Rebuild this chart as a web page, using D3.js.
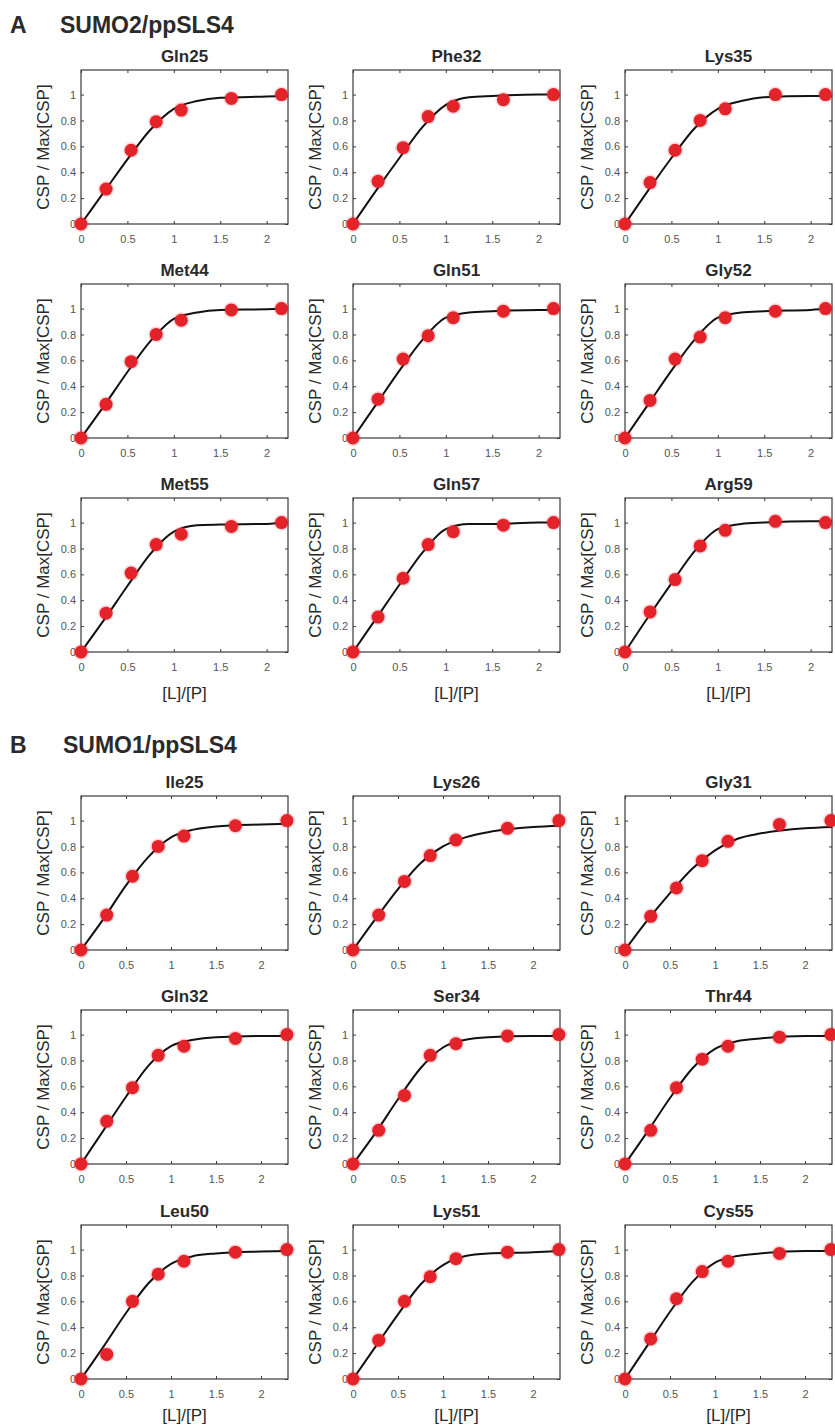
<!DOCTYPE html>
<html>
<head>
<meta charset="utf-8">
<script src="https://cdn.jsdelivr.net/npm/d3@7"></script>
<style>
  html, body { margin: 0; padding: 0; background: #ffffff; }
  svg { display: block; font-family: "Liberation Sans", Arial, Helvetica, sans-serif; }
</style>
</head>
<body>
<svg id="fig" width="835" height="1427"></svg>
<script>
// ---- Titration data: normalised chemical shift perturbation vs ligand/protein ratio ----

// Panel A: SUMO2 / ppSLS4
const ratiosA = [0, 0.27, 0.54, 0.81, 1.08, 1.62, 2.16];
const residuesA = ["Gln25", "Phe32", "Lys35", "Met44", "Gln51", "Gly52", "Met55", "Gln57", "Arg59"];
const cspA = [
  [0, 0.27, 0.57, 0.79, 0.88, 0.97, 1.00],
  [0, 0.33, 0.59, 0.83, 0.91, 0.96, 1.00],
  [0, 0.32, 0.57, 0.80, 0.89, 1.00, 1.00],
  [0, 0.26, 0.59, 0.80, 0.91, 0.99, 1.00],
  [0, 0.30, 0.61, 0.79, 0.93, 0.98, 1.00],
  [0, 0.29, 0.61, 0.78, 0.93, 0.98, 1.00],
  [0, 0.30, 0.61, 0.83, 0.91, 0.97, 1.00],
  [0, 0.27, 0.57, 0.83, 0.93, 0.98, 1.00],
  [0, 0.31, 0.56, 0.82, 0.94, 1.01, 1.00]
];
// fitted binding curves, sampled at these ratios
const fitRatiosA = [0, 0.25, 0.5, 0.75, 1.0, 1.25, 1.5, 2.0, 2.23];
const fitA = [
  [0, 0.25, 0.50, 0.73, 0.89, 0.95, 0.975, 0.985, 0.99],
  [0, 0.26, 0.51, 0.75, 0.92, 0.98, 0.99, 1.00, 1.00],
  [0, 0.26, 0.51, 0.74, 0.89, 0.95, 0.98, 0.99, 0.99],
  [0, 0.25, 0.51, 0.75, 0.92, 0.97, 0.99, 0.995, 1.00],
  [0, 0.26, 0.52, 0.76, 0.93, 0.97, 0.98, 0.99, 0.99],
  [0, 0.26, 0.52, 0.76, 0.93, 0.97, 0.98, 0.99, 1.00],
  [0, 0.25, 0.51, 0.76, 0.93, 0.98, 0.985, 0.99, 1.00],
  [0, 0.26, 0.52, 0.77, 0.95, 0.99, 0.99, 1.00, 1.00],
  [0, 0.27, 0.53, 0.78, 0.95, 0.99, 1.00, 1.01, 1.01]
];

// Panel B: SUMO1 / ppSLS4
const ratiosB = [0, 0.286, 0.572, 0.858, 1.144, 1.716, 2.288];
const residuesB = ["Ile25", "Lys26", "Gly31", "Gln32", "Ser34", "Thr44", "Leu50", "Lys51", "Cys55"];
const cspB = [
  [0, 0.27, 0.57, 0.80, 0.88, 0.96, 1.00],
  [0, 0.27, 0.53, 0.73, 0.85, 0.94, 1.00],
  [0, 0.26, 0.48, 0.69, 0.84, 0.97, 1.00],
  [0, 0.33, 0.59, 0.84, 0.91, 0.97, 1.00],
  [0, 0.26, 0.53, 0.84, 0.93, 0.99, 1.00],
  [0, 0.26, 0.59, 0.81, 0.91, 0.98, 1.00],
  [0, 0.19, 0.60, 0.81, 0.91, 0.98, 1.00],
  [0, 0.30, 0.60, 0.79, 0.93, 0.98, 1.00],
  [0, 0.31, 0.62, 0.83, 0.91, 0.97, 1.00]
];
const fitRatiosB = [0, 0.25, 0.5, 0.75, 1.0, 1.25, 1.5, 2.0, 2.3];
const fitB = [
  [0, 0.24, 0.50, 0.72, 0.87, 0.93, 0.955, 0.97, 0.975],
  [0, 0.24, 0.47, 0.67, 0.80, 0.87, 0.91, 0.95, 0.96],
  [0, 0.23, 0.44, 0.63, 0.77, 0.86, 0.90, 0.94, 0.95],
  [0, 0.26, 0.52, 0.76, 0.91, 0.96, 0.98, 0.99, 0.99],
  [0, 0.24, 0.50, 0.74, 0.90, 0.96, 0.98, 0.99, 0.99],
  [0, 0.25, 0.51, 0.74, 0.89, 0.95, 0.97, 0.99, 0.99],
  [0, 0.25, 0.51, 0.74, 0.89, 0.95, 0.97, 0.985, 0.99],
  [0, 0.25, 0.50, 0.73, 0.88, 0.95, 0.97, 0.98, 0.99],
  [0, 0.26, 0.52, 0.75, 0.90, 0.95, 0.97, 0.99, 0.99]
];

const xTicks = [0, 0.5, 1, 1.5, 2];
const yTicks = [0, 0.2, 0.4, 0.6, 0.8, 1];
const yLabel = "CSP / Max[CSP]";
const xLabel = "[L]/[P]";

// ---- layout ----
const colLeft = [81, 353, 625];
const plotW = 207, plotH = 154;
const panels = [
  { letter: "A", name: "SUMO2/ppSLS4", headY: 33, nameX: 60, rowTop: [70, 284, 498],
    xMax: 2.23, ratios: ratiosA, residues: residuesA, csp: cspA, fitX: fitRatiosA, fit: fitA, xLabelDy: 47 },
  { letter: "B", name: "SUMO1/ppSLS4", headY: 753, nameX: 63, rowTop: [796, 1010, 1225],
    xMax: 2.3, ratios: ratiosB, residues: residuesB, csp: cspB, fitX: fitRatiosB, fit: fitB, xLabelDy: 42 }
];

const textCol = "#2a2a2a";
const tickCol = "#555555";
const frameCol = "#3a3a3a";
const dotCol = "#e3222a";

const svg = d3.select("#fig");

panels.forEach(p => {
  svg.append("text")
    .attr("x", 10).attr("y", p.headY)
    .attr("font-size", 23).attr("font-weight", "bold").attr("fill", textCol)
    .text(p.letter);
  svg.append("text")
    .attr("x", p.nameX).attr("y", p.headY)
    .attr("font-size", 23).attr("font-weight", "bold").attr("fill", textCol)
    .text(p.name);

  p.residues.forEach((res, i) => {
    const row = Math.floor(i / 3), col = i % 3;
    const left = colLeft[col], top = p.rowTop[row];

    const x = d3.scaleLinear().domain([0, p.xMax]).range([0, plotW]);
    const y = d3.scaleLinear().domain([0, 1.19]).range([plotH, 0]);

    const g = svg.append("g").attr("transform", `translate(${left},${top})`);

    // inward ticks on all four sides
    const fmt = d => String(d);
    const ax = [
      { a: d3.axisBottom(x).tickValues(xTicks).tickFormat(fmt), t: `translate(0,${plotH})`, lab: true },
      { a: d3.axisTop(x).tickValues(xTicks).tickFormat(""), t: "translate(0,0)", lab: false },
      { a: d3.axisLeft(y).tickValues(yTicks).tickFormat(fmt), t: "translate(0,0)", lab: true },
      { a: d3.axisRight(y).tickValues(yTicks).tickFormat(""), t: `translate(${plotW},0)`, lab: false }
    ];
    ax.forEach(o => {
      const ag = g.append("g").attr("transform", o.t)
        .call(o.a.tickSizeInner(-3).tickSizeOuter(0).tickPadding(o === ax[0] ? 11 : 5));
      ag.select(".domain").remove();
      ag.selectAll("line").attr("stroke", frameCol).attr("stroke-width", 1);
      ag.selectAll("text")
        .attr("font-family", "\"Liberation Sans\", Arial, sans-serif")
        .attr("font-size", 11).attr("fill", tickCol);
    });

    g.append("rect")
      .attr("x", 0).attr("y", 0).attr("width", plotW).attr("height", plotH)
      .attr("fill", "none").attr("stroke", frameCol).attr("stroke-width", 1.2);

    // title
    g.append("text")
      .attr("x", plotW / 2).attr("y", -8)
      .attr("text-anchor", "middle")
      .attr("font-size", 17).attr("font-weight", "bold").attr("fill", textCol)
      .text(res);

    // y axis label
    g.append("text")
      .attr("transform", `translate(-32,${plotH / 2}) rotate(-90)`)
      .attr("text-anchor", "middle")
      .attr("font-size", 17).attr("fill", textCol)
      .text(yLabel);

    // fitted curve
    const fitPts = p.fitX.map((fx, k) => [fx, p.fit[i][k]]);
    const line = d3.line().x(d => x(d[0])).y(d => y(d[1])).curve(d3.curveMonotoneX);
    g.append("path")
      .attr("d", line(fitPts))
      .attr("fill", "none").attr("stroke", "#111").attr("stroke-width", 2);

    // measured points
    const pts = p.ratios.map((r, k) => [r, p.csp[i][k]]);
    g.selectAll("circle.halo").data(pts).enter().append("circle")
      .attr("class", "halo")
      .attr("cx", d => x(d[0])).attr("cy", d => y(d[1])).attr("r", 8)
      .attr("fill", dotCol).attr("opacity", 0.18);
    g.selectAll("circle.dot").data(pts).enter().append("circle")
      .attr("class", "dot")
      .attr("cx", d => x(d[0])).attr("cy", d => y(d[1])).attr("r", 6.5)
      .attr("fill", dotCol);

    // x axis label on the bottom row
    if (row === 2) {
      g.append("text")
        .attr("x", plotW / 2).attr("y", plotH + p.xLabelDy)
        .attr("text-anchor", "middle")
        .attr("font-size", 17).attr("fill", textCol)
        .text(xLabel);
    }
  });
});
</script>
</body>
</html>
